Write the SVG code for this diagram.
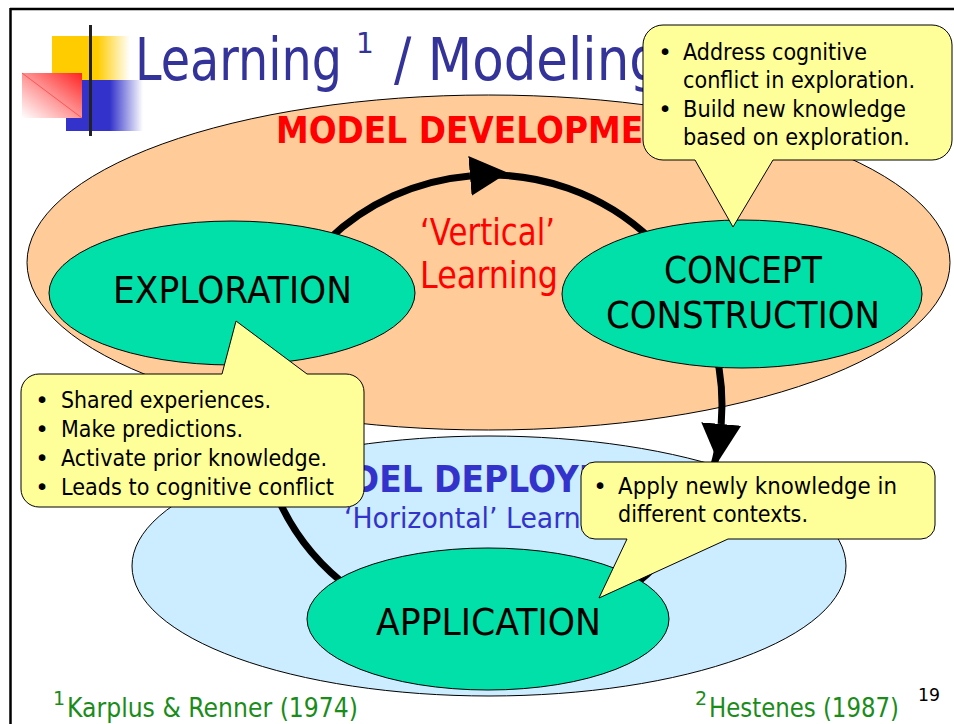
<svg xmlns="http://www.w3.org/2000/svg" width="954" height="724" viewBox="0 0 954 724">
<defs>
<style>
.f{font-family:"DejaVu Sans","Liberation Sans",sans-serif}
.node ellipse{fill:#00E0A8;stroke:#000;stroke-width:1}
.node text{font-size:37px;fill:#000}
.call path{fill:#FFFF99;stroke:#000;stroke-width:1}
.call text{font-size:23px;fill:#000}
.cyc{fill:none;stroke:#000;stroke-width:7}
.foot{fill:#1A8C1A}
</style>
<linearGradient id="gy" x1="0" y1="0" x2="1" y2="0"><stop offset="0.58" stop-color="#FFCC00"/><stop offset="1" stop-color="#FFCC00" stop-opacity="0"/></linearGradient>
<linearGradient id="gb" x1="0" y1="0" x2="1" y2="0"><stop offset="0.57" stop-color="#3333CC"/><stop offset="1" stop-color="#3333CC" stop-opacity="0"/></linearGradient>
<linearGradient id="gr" x1="1" y1="0" x2="0" y2="1"><stop offset="0" stop-color="#FF2222"/><stop offset="0.45" stop-color="#FF8888"/><stop offset="1" stop-color="#FFFFFF"/></linearGradient>
<linearGradient id="gl" x1="0" y1="0" x2="1" y2="0"><stop offset="0" stop-color="#222"/><stop offset="1" stop-color="#999"/></linearGradient>
<marker id="ah" markerUnits="userSpaceOnUse" viewBox="0 -20 38 40" refX="0" refY="0" markerWidth="38" markerHeight="40" orient="auto"><polygon points="0,-20 38,0 0,20" fill="#000"/></marker>
</defs>

<!-- frame -->
<path d="M10,9 H954 M10.5,8 V724" stroke="#000" stroke-width="2.5" fill="none"/>

<!-- logo -->
<g id="logo">
<rect x="52" y="36" width="78" height="44" fill="url(#gy)"/>
<rect x="66" y="80" width="77" height="51" fill="url(#gb)"/>
<rect x="22" y="73" width="60" height="45" fill="url(#gr)"/>
<line x1="22" y1="73" x2="82" y2="118" stroke="#FF5555" stroke-width="1"/>
<line x1="56" y1="109" x2="720" y2="109" stroke="url(#gl)" stroke-width="3"/>
<line x1="90.5" y1="25" x2="90.5" y2="136" stroke="#222" stroke-width="3"/>
</g>

<!-- title -->
<g id="title" class="f" fill="#333399">
<text x="135" y="80" font-size="59" textLength="207" lengthAdjust="spacingAndGlyphs">Learning</text>
<text x="356" y="53" font-size="28">1</text>
<text x="394" y="80" font-size="59" textLength="268" lengthAdjust="spacingAndGlyphs">/ Modeling</text>
</g>

<!-- regions -->
<ellipse id="dev-region" cx="488.5" cy="262.5" rx="461.5" ry="167.5" fill="#FFCC99" stroke="#000" stroke-width="1"/>
<text class="f" x="276" y="143" font-size="38" font-weight="bold" fill="#FF0000" textLength="417" lengthAdjust="spacingAndGlyphs">MODEL DEVELOPMENT</text>
<text class="f" x="420" y="245" font-size="38" fill="#FF0000" textLength="135" lengthAdjust="spacingAndGlyphs">‘Vertical’</text>
<text class="f" x="420" y="288" font-size="38" fill="#FF0000" textLength="138" lengthAdjust="spacingAndGlyphs">Learning</text>

<ellipse id="dep-region" cx="489" cy="566" rx="357" ry="130" fill="#CCECFF" stroke="#000" stroke-width="1"/>
<text class="f" x="291" y="492" font-size="37" font-weight="bold" fill="#3333CC" textLength="393" lengthAdjust="spacingAndGlyphs">MODEL DEPLOYMENT</text>
<text class="f" x="344" y="528" font-size="28" fill="#3333CC" textLength="278" lengthAdjust="spacingAndGlyphs">‘Horizontal’ Learning</text>

<!-- connectors -->
<g id="connectors">
<path class="cyc" d="M328,240 A232,230 0 0 1 470,175.9" marker-end="url(#ah)"/>
<path class="cyc" d="M470,175.9 A232,230 0 0 1 652,240"/>
<path class="cyc" d="M715.3,350 A232,230 0 0 1 721.2,424" marker-end="url(#ah)"/>
<path class="cyc" d="M721.2,424 A232,230 0 0 1 627.8,590"/>
<path class="cyc" d="M352.2,590 A232,230 0 0 1 264.7,350"/>
</g>

<!-- nodes -->
<g id="exploration" class="node f">
<ellipse cx="232" cy="293" rx="183" ry="72"/>
<text x="113" y="303" textLength="239" lengthAdjust="spacingAndGlyphs">EXPLORATION</text>
</g>
<g id="concept-construction" class="node f">
<ellipse cx="742" cy="294" rx="180" ry="74"/>
<text x="664" y="283" textLength="158" lengthAdjust="spacingAndGlyphs">CONCEPT</text>
<text x="606" y="328" textLength="274" lengthAdjust="spacingAndGlyphs">CONSTRUCTION</text>
</g>
<g id="application" class="node f">
<ellipse cx="488" cy="619" rx="181" ry="71"/>
<text x="376" y="635" textLength="225" lengthAdjust="spacingAndGlyphs">APPLICATION</text>
</g>

<!-- callouts -->
<g id="callout-concept" class="call f">
<path d="M663,25 H932 A20,20 0 0 1 952,45 V140 A20,20 0 0 1 932,160 H773 L733,227 L695,160 H663 A20,20 0 0 1 643,140 V45 A20,20 0 0 1 663,25 Z"/>
<text x="665" y="60" text-anchor="middle">•</text>
<text x="683" y="60" textLength="184" lengthAdjust="spacingAndGlyphs">Address cognitive</text>
<text x="683" y="88" textLength="232" lengthAdjust="spacingAndGlyphs">conflict in exploration.</text>
<text x="665" y="117" text-anchor="middle">•</text>
<text x="683" y="117" textLength="223" lengthAdjust="spacingAndGlyphs">Build new knowledge</text>
<text x="683" y="145" textLength="227" lengthAdjust="spacingAndGlyphs">based on exploration.</text>
</g>
<g id="callout-exploration" class="call f">
<path d="M39,374 H222 L236,321 L307,374 H346 A18,18 0 0 1 364,392 V489 A18,18 0 0 1 346,507 H39 A18,18 0 0 1 21,489 V392 A18,18 0 0 1 39,374 Z"/>
<text x="42" y="408" text-anchor="middle">•</text>
<text x="61" y="408" textLength="210" lengthAdjust="spacingAndGlyphs">Shared experiences.</text>
<text x="42" y="437" text-anchor="middle">•</text>
<text x="61" y="437" textLength="182" lengthAdjust="spacingAndGlyphs">Make predictions.</text>
<text x="42" y="466" text-anchor="middle">•</text>
<text x="61" y="466" textLength="266" lengthAdjust="spacingAndGlyphs">Activate prior knowledge.</text>
<text x="42" y="495" text-anchor="middle">•</text>
<text x="61" y="495" textLength="273" lengthAdjust="spacingAndGlyphs">Leads to cognitive conflict</text>
</g>
<g id="callout-application" class="call f">
<path d="M595,462 H921 A14,14 0 0 1 935,476 V525 A14,14 0 0 1 921,539 H728 L599,598 L627,539 H595 A14,14 0 0 1 581,525 V476 A14,14 0 0 1 595,462 Z"/>
<text x="600" y="494" text-anchor="middle" font-size="22">•</text>
<text x="618" y="494" font-size="22" textLength="279" lengthAdjust="spacingAndGlyphs">Apply newly knowledge in</text>
<text x="618" y="522" font-size="22" textLength="190" lengthAdjust="spacingAndGlyphs">different contexts.</text>
</g>

<!-- footnotes -->
<g id="footnotes" class="f">
<text class="foot" x="53" y="705" font-size="19">1</text>
<text class="foot" x="67" y="717" font-size="27" textLength="291" lengthAdjust="spacingAndGlyphs">Karplus &amp; Renner (1974)</text>
<text class="foot" x="695" y="705" font-size="19">2</text>
<text class="foot" x="709" y="717" font-size="27" textLength="190" lengthAdjust="spacingAndGlyphs">Hestenes (1987)</text>
<text x="918" y="701" font-size="17" fill="#000" textLength="22" lengthAdjust="spacingAndGlyphs">19</text>
</g>
</svg>
